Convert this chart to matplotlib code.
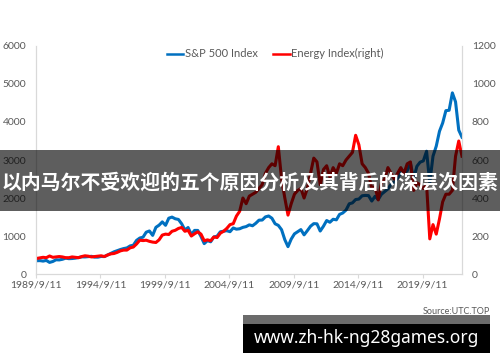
import pandas as pd
import matplotlib.pyplot as plt
from matplotlib.patches import Rectangle
from matplotlib.lines import Line2D

plt.rcParams['font.family'] = ['Lato', 'Noto Sans CJK SC', 'DejaVu Sans']

# quarter-end dates, Sep 1989 .. Sep 2022
dates = pd.date_range("1989-09-30", "2022-09-30", freq="QE")

sp500 = [350, 353,
         340, 358, 306, 330,   375, 371, 388, 417,   404, 408, 418, 435,
         451, 450, 458, 466,   445, 444, 462, 459,   500, 544, 584, 615,
         645, 670, 687, 740,   757, 885, 947, 970,   1101, 1133, 1017, 1229,
         1286, 1372, 1282, 1469,   1498, 1454, 1436, 1320,   1160, 1224, 1040, 1148,
         1147, 989, 800, 880,   848, 975, 996, 1112,   1126, 1140, 1114, 1212,
         1180, 1191, 1228, 1248,   1294, 1270, 1335, 1418,   1420, 1503, 1527, 1468,
         1322, 1280, 1166, 903,   720, 919, 1057, 1115,   1169, 1031, 1141, 1258,
         1326, 1321, 1131, 1258,   1408, 1362, 1441, 1426,   1569, 1606, 1682, 1848,
         1872, 1960, 1972, 2059,   2068, 2063, 1920, 2044,   1960, 2099, 2168, 2239,
         2363, 2423, 2519, 2674,   2640, 2718, 2914, 2507,   2834, 2942, 2977, 3231,
         2400, 3100, 3363, 3756,   3973, 4298, 4308, 4766,
         4530, 3785, 3600]

energy = [82, 85,
          88, 86, 95, 88,   90, 92, 90, 86,   86, 90, 88, 86,
          92, 96, 94, 90,   92, 94, 96, 92,   100, 106, 108, 114,
          122, 126, 126, 138,   142, 158, 178, 176,   178, 172, 168, 166,
          180, 205, 210, 208,   225, 230, 240, 245,   225, 230, 200, 212,
          222, 210, 175, 180,   175, 195, 192, 215,   225, 240, 260, 265,
          305, 330, 400, 370,   410, 420, 430, 450,   470, 530, 560, 580,
          570, 670, 500, 400,   310, 370, 420, 440,   450, 400, 450, 530,
          610, 590, 470, 550,   570, 510, 560, 530,   580, 570, 600, 620,
          640, 730, 680, 580,   560, 530, 450, 460,   390, 480, 500, 560,
          530, 500, 530, 560,   530, 580, 590, 440,   480, 470, 450, 470,
          185, 260, 210, 290,   380, 420, 420, 440,
          620, 700, 620]

tick_dates = pd.to_datetime(["1989-09-11", "1994-09-11", "1999-09-11", "2004-09-11",
                             "2009-09-11", "2014-09-11", "2019-09-11"])
tick_labels = ["1989/9/11", "1994/9/11", "1999/9/11", "2004/9/11",
               "2009/9/11", "2014/9/11", "2019/9/11"]

blue = "#0070C0"
red = "#FF0000"
txt = "#595959"
spine = "#D9D9D9"

fig = plt.figure(figsize=(5, 3.62), dpi=100)
ax = fig.add_axes([0.072, 0.243, 0.852, 0.630])
ax2 = ax.twinx()

ax.plot(dates, sp500, color=blue, lw=2.2)
ax2.plot(dates, energy, color=red, lw=2.2)

ax.set_ylim(0, 6000)
ax.set_yticks(range(0, 6001, 1000))
ax2.set_ylim(0, 1200)
ax2.set_yticks(range(0, 1201, 200))
ax.set_xlim(pd.Timestamp("1989-09-11"), pd.Timestamp("2022-09-30"))
ax.set_xticks(tick_dates)
ax.set_xticklabels(tick_labels)

for a in (ax, ax2):
    for s in a.spines.values():
        s.set_color(spine)
        s.set_linewidth(0.8)
    a.spines['top'].set_visible(False)
    a.tick_params(axis='y', length=0, labelsize=7.5, labelcolor=txt, pad=7)
ax.tick_params(axis='x', length=3, color=spine, labelsize=7.5, labelcolor=txt, pad=2)

handles = [Line2D([], [], color=blue, lw=1.8), Line2D([], [], color=red, lw=1.8)]
fig.legend(handles, ["S&P 500 Index", "Energy Index(right)"], loc="center",
           bbox_to_anchor=(0.55, 0.851), ncol=2, frameon=False, fontsize=8,
           handlelength=1.5, handletextpad=0.1, columnspacing=1.4,
           labelcolor=txt)

fig.text(0.98, 1 - 312 / 362, "Source:UTC.TOP", ha="right", va="center",
         fontsize=6.5, color=txt)

# overlay banner across the chart
fig.add_artist(Rectangle((0, 1 - 211 / 362), 1, 61 / 362, transform=fig.transFigure,
                         facecolor="black", alpha=0.63, edgecolor="none", zorder=5))
fig.text(0.004, 1 - 182 / 362, "以内马尔不受欢迎的五个原因分析及其背后的深层次因素",
         family=['Noto Sans CJK SC', 'DejaVu Sans'], fontweight="bold",
         fontsize=14.3, color="white", ha="left", va="center", zorder=6)

# url box at the bottom
fig.add_artist(Rectangle((243 / 500, 1 - 324 / 362), 247 / 500, 9 / 362,
                         transform=fig.transFigure, facecolor="#6b6b6b",
                         edgecolor="none", zorder=5))
fig.add_artist(Rectangle((243 / 500, 1 - 353 / 362), 247 / 500, 29 / 362,
                         transform=fig.transFigure, facecolor="black",
                         edgecolor="none", zorder=5))
fig.text(366 / 500, 1 - 338 / 362, "www.zh-hk-ng28games.org", family="Noto Sans",
         fontweight="bold", fontsize=12.5, color="white", ha="center", va="center",
         zorder=6)

fig.savefig("out.png", dpi=100)
